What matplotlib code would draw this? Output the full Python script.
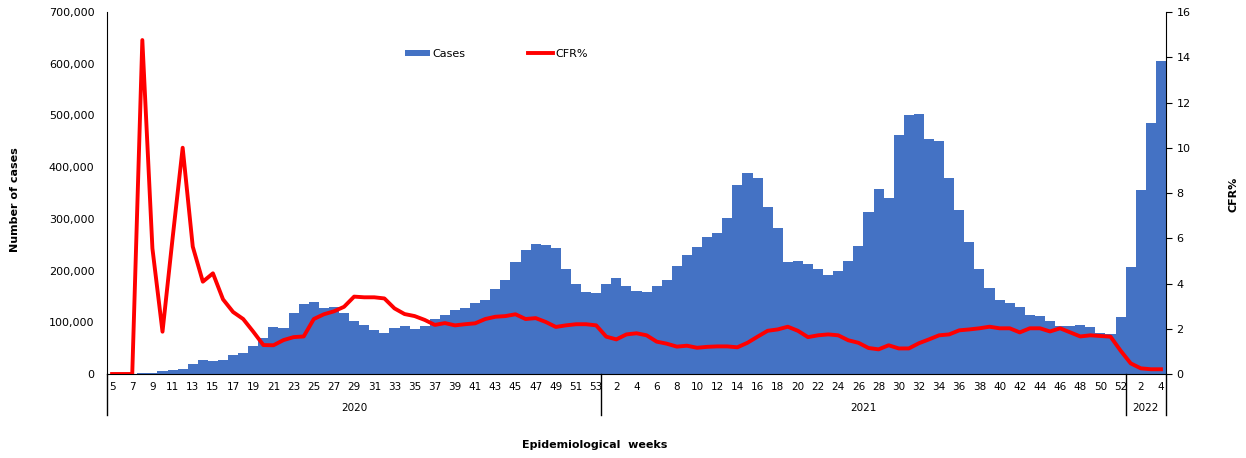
import matplotlib
matplotlib.use("Agg")
import matplotlib.pyplot as plt
import numpy as np

# Semanas epidemiológicas: 2020 (5-53), 2021 (1-52), 2022 (1-4)
semanas_2020 = list(range(5, 54))
semanas_2021 = list(range(1, 53))
semanas_2022 = list(range(1, 5))

casos_2020 = [0, 0, 300, 1000, 1500, 5000, 7700, 10000, 20000, 27000,
              25000, 27000, 37000, 40000, 55000, 70000, 91000, 89000, 118000, 135000,
              139000, 128000, 130000, 118000, 102000, 95000, 85000, 79000, 89000, 93000,
              87000, 93000, 107000, 114000, 124000, 128000, 137000, 143000, 165000, 182000,
              217000, 240000, 251000, 249000, 243000, 203000, 174000, 159000, 157000]
casos_2021 = [174000, 186000, 170000, 160000, 158000, 170000, 182000, 209000, 231000, 246000,
              265000, 273000, 302000, 366000, 389000, 379000, 323000, 282000, 217000, 219000,
              213000, 203000, 191000, 199000, 219000, 248000, 313000, 358000, 340000, 462000,
              501000, 503000, 455000, 451000, 379000, 317000, 255000, 203000, 166000, 143000,
              137000, 130000, 114000, 112000, 102000, 93000, 93000, 95000, 91000, 79000,
              77000, 110000]
casos_2022 = [207000, 356000, 485000, 605000]

cfr_2020 = [0, 0, 0, 14.76, 5.55, 1.87, 6.0, 10.0, 5.63, 4.08,
            4.45, 3.3, 2.74, 2.43, 1.87, 1.28, 1.27, 1.5, 1.63, 1.66,
            2.43, 2.64, 2.77, 2.97, 3.42, 3.39, 3.39, 3.34, 2.9, 2.65,
            2.56, 2.39, 2.17, 2.25, 2.15, 2.2, 2.24, 2.43, 2.53, 2.56,
            2.64, 2.43, 2.47, 2.3, 2.08, 2.15, 2.2, 2.2, 2.15]
cfr_2021 = [1.65, 1.53, 1.75, 1.8, 1.71, 1.43, 1.34, 1.21, 1.25, 1.16,
            1.2, 1.22, 1.22, 1.18, 1.38, 1.65, 1.91, 1.97, 2.09, 1.91,
            1.63, 1.71, 1.75, 1.71, 1.49, 1.38, 1.15, 1.09, 1.27, 1.13,
            1.13, 1.36, 1.53, 1.71, 1.75, 1.93, 1.97, 2.02, 2.09, 2.02,
            2.02, 1.84, 2.02, 2.02, 1.88, 2.02, 1.84, 1.66, 1.71, 1.68,
            1.65, 1.03]
cfr_2022 = [0.47, 0.25, 0.21, 0.21]

anios = ["2020", "2021", "2022"]

# Unir series
semanas = semanas_2020 + semanas_2021 + semanas_2022
casos = casos_2020 + casos_2021 + casos_2022
cfr = cfr_2020 + cfr_2021 + cfr_2022
x = np.arange(len(semanas))

AZUL = "#4472C4"
ROJO = "#FF0000"

fig = plt.figure(figsize=(12.46, 4.58), dpi=100)
ax = fig.add_axes([0.0859, 0.1834, 0.8499, 0.7904])
ax2 = ax.twinx()

ax.bar(x, casos, width=1.0, color=AZUL, label="Cases", zorder=2)
ax2.plot(x, cfr, color=ROJO, linewidth=2.8, label="CFR%", zorder=3)

ax.set_xlim(-0.5, len(x) - 0.5)
ax.set_ylim(0, 700000)
ax2.set_ylim(0, 16)
ax.set_yticks(np.arange(0, 700001, 100000))
ax.set_yticklabels([f"{v:,}" for v in range(0, 700001, 100000)])
ax2.set_yticks(np.arange(0, 17, 2))

# Etiquetas del eje x: una de cada dos semanas
etiquetas = []
posiciones = []
inicios = [0, len(semanas_2020), len(semanas_2020) + len(semanas_2021)]
for grupo, inicio in zip([semanas_2020, semanas_2021, semanas_2022], inicios):
    for j, s in enumerate(grupo):
        if j % 2 == 0 and grupo is semanas_2020:
            posiciones.append(inicio + j)
            etiquetas.append(str(s))
        elif j % 2 == 1 and grupo is not semanas_2020:
            posiciones.append(inicio + j)
            etiquetas.append(str(s))
ax.set_xticks(posiciones)
ax.set_xticklabels(etiquetas)

ax.tick_params(axis="x", length=0, pad=6, labelsize=7.5)
ax.tick_params(axis="y", length=0, labelsize=8, pad=9)
ax2.tick_params(axis="y", length=4, labelsize=8, direction="out")

for a in (ax, ax2):
    a.spines["top"].set_visible(False)
ax.spines["right"].set_visible(False)
ax2.spines["left"].set_visible(False)
ax2.spines["bottom"].set_visible(False)

# Separadores y etiquetas de años
bordes = [-0.5, inicios[1] - 0.5, inicios[2] - 0.5, len(x) - 0.5]
for b in bordes:
    ax.plot([b, b], [0, -0.113], transform=ax.get_xaxis_transform(),
            color="black", linewidth=1, clip_on=False)
for k, anio in enumerate(anios):
    centro = (bordes[k] + bordes[k + 1]) / 2
    ax.text(centro, -0.094, anio, transform=ax.get_xaxis_transform(),
            ha="center", va="center", fontsize=7.5)

fig.text(0.477, 0.028, "Epidemiological  weeks", ha="center", va="center",
         fontsize=8, fontweight="bold")
fig.text(0.012, 0.565, "Number of cases", rotation=90, ha="center", va="center",
         fontsize=8, fontweight="bold")
fig.text(0.99, 0.575, "CFR%", rotation=90, ha="center", va="center",
         fontsize=8, fontweight="bold")

h1, l1 = ax.get_legend_handles_labels()
h2, l2 = ax2.get_legend_handles_labels()
ax2.legend(h1 + h2, l1 + l2, loc="center left", bbox_to_anchor=(0.281, 0.884),
           ncol=2, frameon=False, fontsize=8, columnspacing=5.6,
           borderpad=0, borderaxespad=0,
           handlelength=2.3, handleheight=0.5, handletextpad=0.2)

plt.savefig("out.png", dpi=100)
plt.close()
